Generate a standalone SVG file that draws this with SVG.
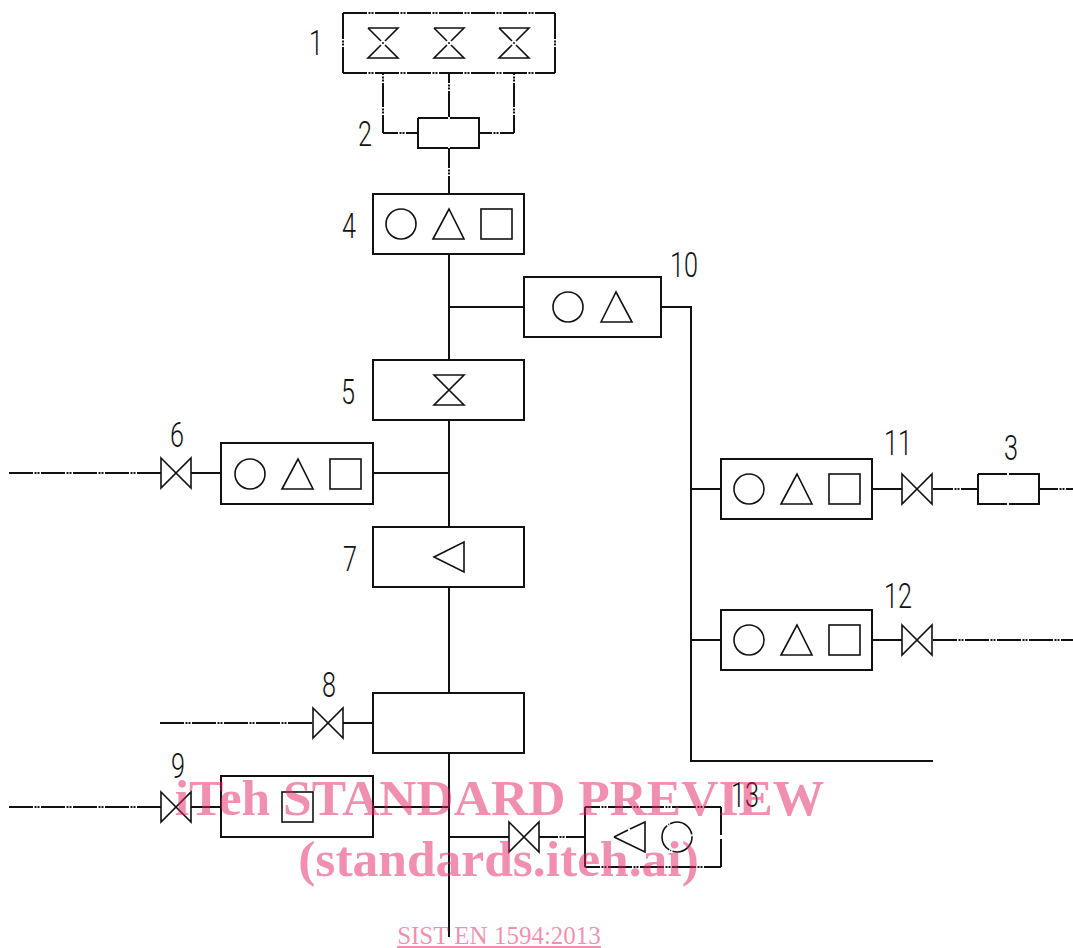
<svg xmlns="http://www.w3.org/2000/svg" width="1073" height="948" viewBox="0 0 1073 948">
<style>
.b{fill:#fff;stroke:#111;stroke-width:2}
.bl{fill:none;stroke:#111;stroke-width:2}
.s{fill:none;stroke:#111;stroke-width:1.6}
.c{fill:none;stroke:#111;stroke-width:2}
.p{stroke-dasharray:24 1.5 2 1 2 1.5}
.q{stroke-dasharray:26 1.5 2 1 2 1.5}
.n{font-family:"Roboto","Liberation Sans",sans-serif;font-weight:300;font-size:35px;fill:#111;text-anchor:middle}
.w{font-family:"Liberation Serif",serif;font-weight:bold;font-size:51.5px;fill:#E12060;fill-opacity:.5;text-anchor:middle}
.u{font-family:"Liberation Serif",serif;font-size:25px;fill:#E12060;fill-opacity:.5;text-anchor:middle;text-decoration:underline}
</style>
<defs>
<g id="ics" class="s"><circle cx="401" cy="224" r="15"/><path d="M433 239L449 209L464 239Z"/><rect x="481" y="209" width="31" height="30"/></g>
<path id="vh" class="s" d="M-15-15L15 15V-15L-15 15Z"/>
<path id="vv" class="s" d="M-15-15H15L-15 15H15Z"/>
<path id="vd" class="s" d="M-15-15H15L2-2M-2 2L-15 15H15L2 2M-2-2L-15-15M-1 0H1"/>
</defs>
<g id="connectors">
<path class="c p" d="M383 57V133" stroke-dashoffset="6"/><path class="c p" d="M383 133H418" stroke-dashoffset="9"/>
<path class="c q" d="M449 57V118"/>
<path class="c p" d="M514 57V133" stroke-dashoffset="6"/><path class="c p" d="M514 133H479" stroke-dashoffset="10"/>
<path class="c p" d="M449 148V194" stroke-dashoffset="4"/>
<path class="c" d="M449 254V360M449 420V527M449 587V693M449 753V937"/>
<path class="c" d="M449 307H524M661 307H691V761H933"/>
<path class="c" d="M691 489H721M691 640H721"/>
<path class="c" d="M373 473H449M373 807H449M449 837H509"/>
<path class="c p" d="M9 473H161"/><path class="c" d="M191 473H221"/>
<path class="c p" d="M9 807H161"/><path class="c" d="M191 807H221"/>
<path class="c p" d="M160 723H313"/><path class="c" d="M343 723H373"/>
<path class="c" d="M872 489H902"/><path class="c p" d="M933 489H978" stroke-dashoffset="4"/><path class="c p" d="M1039 489H1073" stroke-dashoffset="5"/>
<path class="c" d="M872 640H902"/><path class="c p" d="M933 640H1073"/>
<path class="c p" d="M539 837H585" stroke-dashoffset="5"/>
</g>
<g id="node-1"><rect x="343" y="13" width="212" height="60" fill="#fff"/><path class="bl p" d="M343 13H555M343 73H555"/><path class="bl q" d="M343 13V73M555 13V73"/><use href="#vd" x="383" y="43"/><use href="#vd" x="449" y="43"/><use href="#vd" x="514" y="43"/><text class="n" transform="translate(316 55) scale(.72 1)">1</text></g>
<g id="node-2"><rect x="418" y="118" width="61" height="30" fill="#fff"/><path class="bl" d="M418 118H448M450 118H479V148H450M448 148H418V118"/><text class="n" transform="translate(365 146) scale(.72 1)">2</text></g>
<g id="node-4"><rect class="b" x="373" y="194" width="151" height="60"/><use href="#ics"/><text class="n" transform="translate(349 238) scale(.72 1)">4</text></g>
<g id="node-10"><rect class="b" x="524" y="277" width="137" height="60"/><circle class="s" cx="568" cy="307" r="15"/><path class="s" d="M601 322L616 292L632 322Z"/><text class="n" transform="translate(684 277) scale(.72 1)">10</text></g>
<g id="node-5"><rect class="b" x="373" y="360" width="151" height="60"/><use href="#vv" x="449" y="390"/><text class="n" transform="translate(348 404) scale(.72 1)">5</text></g>
<g id="node-6"><rect class="b" x="221" y="443" width="152" height="61"/><use href="#ics" x="-151" y="250"/><use href="#vh" x="176" y="473"/><text class="n" transform="translate(177 447) scale(.72 1)">6</text></g>
<g id="node-7"><rect class="b" x="373" y="527" width="151" height="60"/><path class="s" d="M434 557L464 542V572Z"/><text class="n" transform="translate(350 571) scale(.72 1)">7</text></g>
<g id="node-8"><rect class="b" x="373" y="693" width="151" height="60"/><use href="#vh" x="328" y="723"/><text class="n" transform="translate(329 697) scale(.72 1)">8</text></g>
<g id="node-9"><rect class="b" x="221" y="776" width="152" height="61"/><rect class="s" x="282" y="792" width="31" height="30"/><use href="#vh" x="176" y="807"/><text class="n" transform="translate(178 778) scale(.72 1)">9</text></g>
<g id="node-11"><rect class="b" x="721" y="459" width="151" height="60"/><use href="#ics" x="348" y="265"/><use href="#vh" x="917" y="489"/><text class="n" transform="translate(898 455) scale(.72 1)">11</text></g>
<g id="node-3"><rect x="978" y="474" width="61" height="30" fill="#fff"/><path class="bl" d="M978 474H1007M1009 474H1039V504H1009M1007 504H978V474"/><text class="n" transform="translate(1011 460) scale(.72 1)">3</text></g>
<g id="node-12"><rect class="b" x="721" y="610" width="151" height="60"/><use href="#ics" x="348" y="416"/><use href="#vh" x="917" y="640"/><text class="n" transform="translate(898 608) scale(.72 1)">12</text></g>
<g id="node-13"><rect x="585" y="807" width="136" height="60" fill="#fff"/><path class="bl p" d="M585 807H721M585 867H721" stroke-dashoffset="9"/><path class="bl" d="M585 807V867M721 807V835M721 839V867"/><path class="s" d="M614 837L628 830M630 829L645 822V852L614 837"/><circle class="s" cx="677" cy="837" r="15" stroke-dasharray="28 1.5 1 1"/><use href="#vh" x="524" y="837"/><text class="n" transform="translate(745 807) scale(.72 1)">13</text></g>
<g id="watermark"><text class="w" x="499.5" y="815">iTeh STANDARD PREVIEW</text><text class="w" x="498.5" y="876">(standards.iteh.ai)</text><text class="u" x="499" y="944">SIST EN 1594:2013</text></g>
</svg>
